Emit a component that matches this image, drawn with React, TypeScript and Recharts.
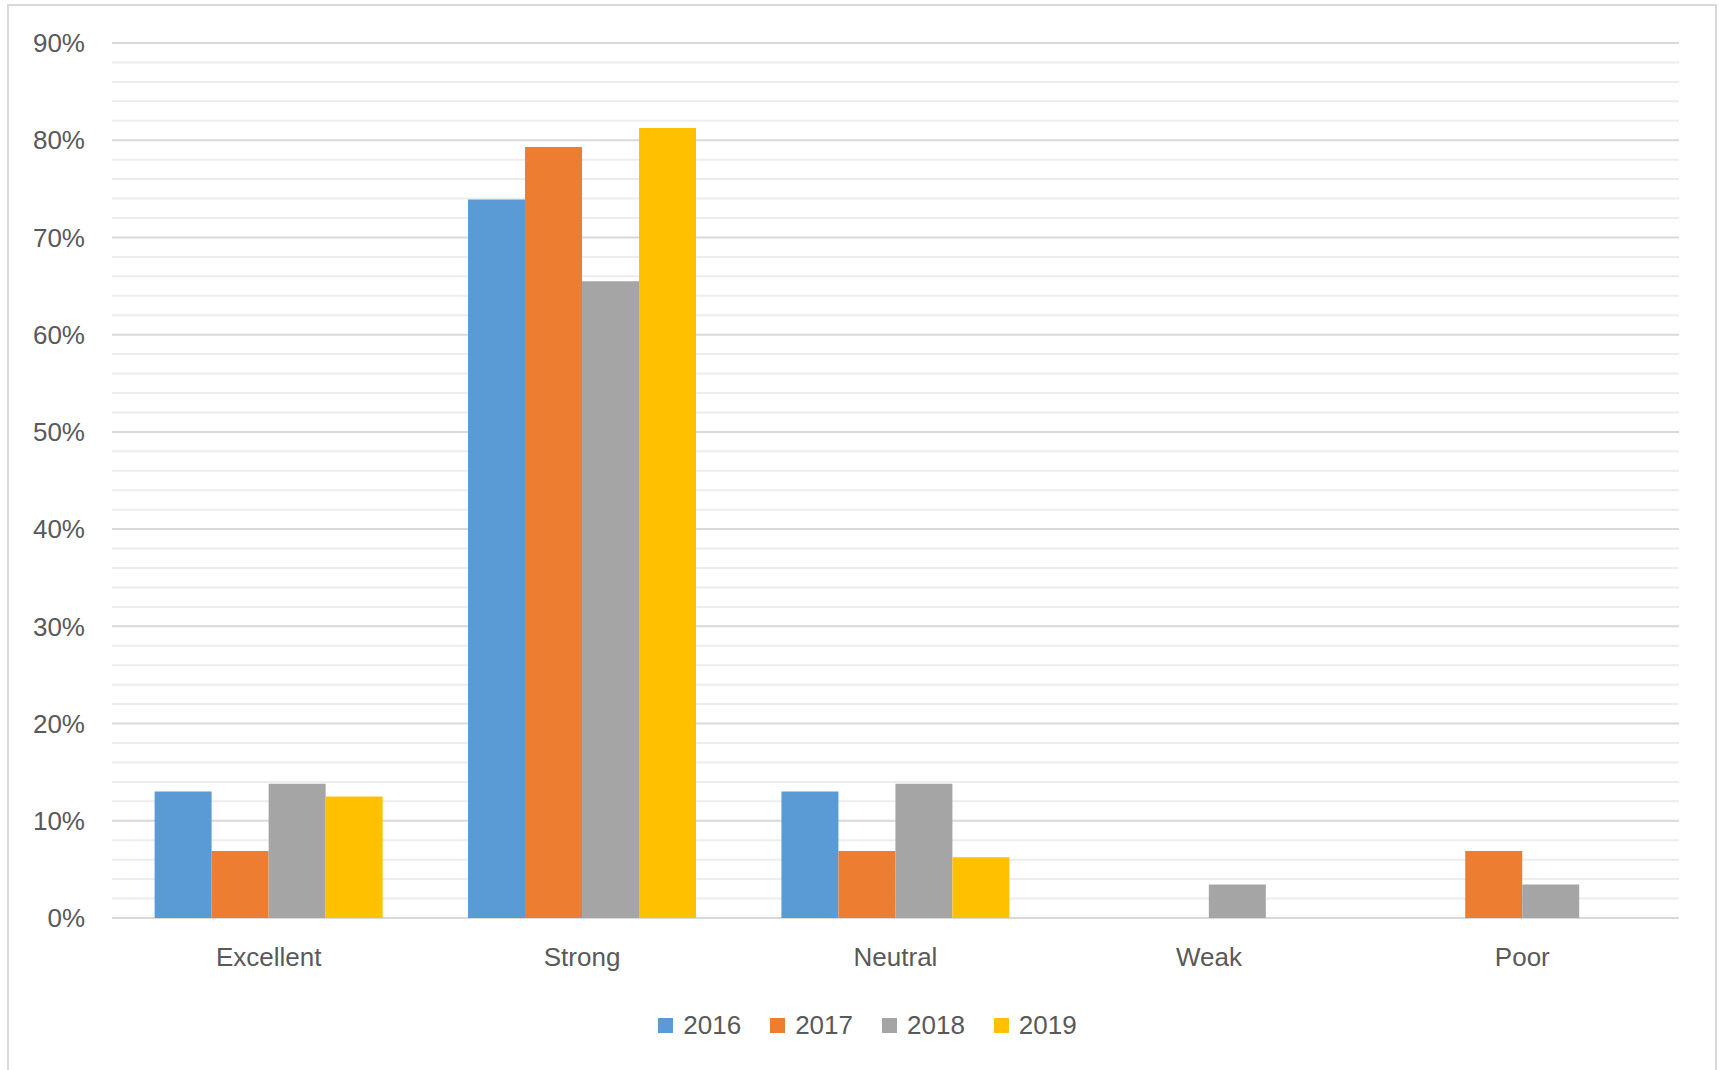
import React from "react";
import {
  BarChart,
  Bar,
  XAxis,
  YAxis,
  CartesianGrid,
  Legend,
} from "recharts";

const categories = ["Excellent", "Strong", "Neutral", "Weak", "Poor"];
const years = ["2016", "2017", "2018", "2019"];
const values2016 = [13.0, 73.9, 13.0, 0, 0];
const values2017 = [6.9, 79.3, 6.9, 0, 6.9];
const values2018 = [13.8, 65.5, 13.8, 3.45, 3.45];
const values2019 = [12.5, 81.25, 6.25, 0, 0];
const colors = ["#5B9BD5", "#ED7D31", "#A5A5A5", "#FFC000"];
const majorTicks = [0, 10, 20, 30, 40, 50, 60, 70, 80, 90];
const minorTicks = [
  2, 4, 6, 8, 12, 14, 16, 18, 22, 24, 26, 28, 32, 34, 36, 38, 42, 44, 46, 48,
  52, 54, 56, 58, 62, 64, 66, 68, 72, 74, 76, 78, 82, 84, 86, 88,
];

const series = [values2016, values2017, values2018, values2019];

const data = categories.map((name, i) => {
  const row: Record<string, string | number> = { name };
  years.forEach((y, j) => {
    row[y] = series[j][i];
  });
  return row;
});

const FONT = "'Liberation Sans', Arial, sans-serif";
const TEXT = "#595959";

const LegendContent = () => (
  <div
    style={{
      display: "flex",
      justifyContent: "center",
      alignItems: "center",
      height: 40,
      paddingLeft: 16,
      fontFamily: FONT,
      fontSize: 26,
      color: TEXT,
    }}
  >
    {years.map((y, i) => (
      <div
        key={y}
        style={{ display: "flex", alignItems: "center", marginRight: i < 3 ? 29 : 0 }}
      >
        <span
          style={{
            display: "inline-block",
            width: 15,
            height: 15,
            background: colors[i],
            marginRight: 10,
          }}
        />
        <span>{y}</span>
      </div>
    ))}
  </div>
);

const App = () => {
  return (
    <div
      style={{
        position: "absolute",
        left: 0,
        top: 0,
        width: 1719,
        height: 1070,
        background: "#fff",
        overflow: "hidden",
      }}
    >
      <div
        style={{
          position: "absolute",
          left: 7,
          top: 4,
          width: 1710,
          height: 1100,
          border: "2px solid #d9d9d9",
          boxSizing: "border-box",
        }}
      />
      <div style={{ position: "absolute", left: 0, top: 0 }}>
        <BarChart
          width={1719}
          height={1070}
          data={data}
          margin={{ top: 43, right: 40, left: 0, bottom: 52 }}
          barCategoryGap="13.6%"
          barGap={0}
        >
          <CartesianGrid
            vertical={false}
            horizontalValues={minorTicks}
            stroke="#ededed"
            strokeWidth={2}
          />
          <CartesianGrid vertical={false} stroke="#d9d9d9" strokeWidth={2} />
          <XAxis
            dataKey="name"
            axisLine={false}
            tickLine={false}
            height={60}
            tickMargin={24}
            tick={{ fill: TEXT, fontSize: 26, fontFamily: FONT }}
          />
          <YAxis
            width={112}
            domain={[0, 90]}
            ticks={majorTicks}
            interval={0}
            axisLine={false}
            tickLine={false}
            tickMargin={21}
            tickFormatter={(v: number) => `${v}%`}
            tick={{ fill: TEXT, fontSize: 26, fontFamily: FONT }}
          />
          <Legend
            content={<LegendContent />}
            wrapperStyle={{ left: 0, width: 1719, bottom: 25 }}
          />
          {years.map((y, i) => (
            <Bar key={y} dataKey={y} fill={colors[i]} isAnimationActive={false} />
          ))}
        </BarChart>
      </div>
    </div>
  );
};

export default App;
